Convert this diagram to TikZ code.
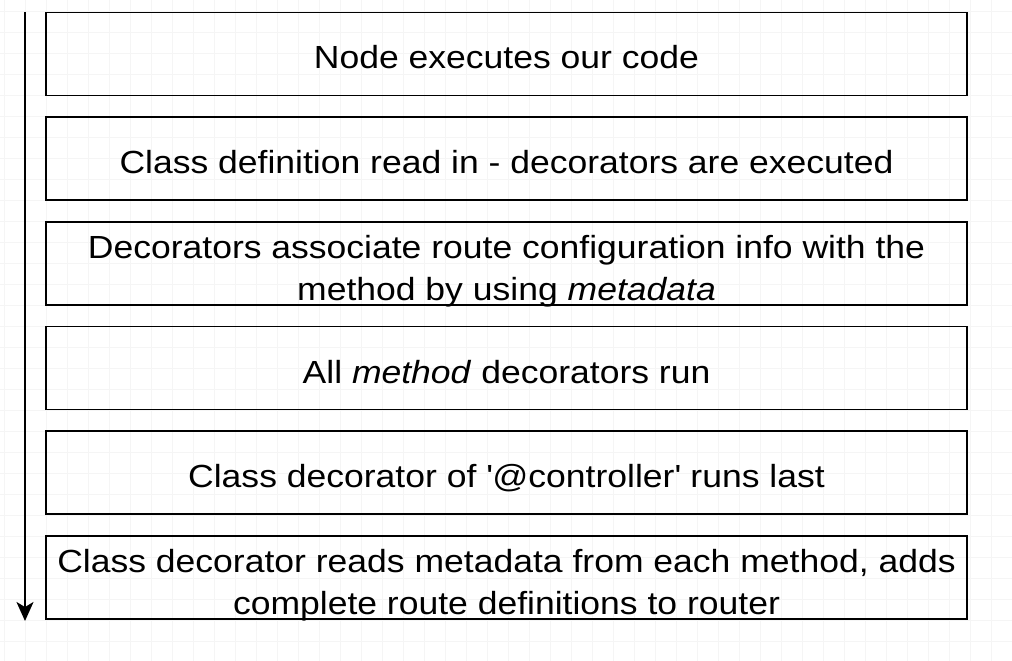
\documentclass[tikz,border=0pt]{standalone}
\usepackage{fontspec}
\setmainfont[FakeStretch=1.11]{Liberation Sans}
\usepackage{tikz}
\usetikzlibrary{positioning, arrows.meta}
\tikzset{
  gridline/.style={draw=black!4, line width=0.8pt},
  stepbox/.style={draw, line width=1.8pt, rectangle, inner sep=0pt,
    minimum width=921pt, minimum height=83pt},
  steptext/.style={inner sep=0pt, align=center,
    font=\fontsize{32}{42}\selectfont},
  oneline/.style={steptext, text height=23pt, text depth=7pt, yshift=-7pt},
  twolines/.style={steptext, yshift=-8pt},
  flow/.style={line width=1.8pt, -{Stealth[length=19pt,width=17pt,inset=5pt]}}
}

\begin{document}
\begin{tikzpicture}[x=1pt,y=-1pt]
        \useasboundingbox (0,0) rectangle (1012,661);
        % Rejilla de fondo
        \foreach \gx in {4,25,...,1012} \draw[gridline] (\gx,0) -- (\gx,661);
        \foreach \gy in {11,32,...,661} \draw[gridline] (0,\gy) -- (1012,\gy);
        % Cajas de los pasos
        \node[stepbox] (s1) at (506.5,54) {};
        \node[stepbox] (s2) at (506.5,158.5) {};
        \node[stepbox] (s3) at (506.5,263.5) {};
        \node[stepbox] (s4) at (506.5,368) {};
        \node[stepbox] (s5) at (506.5,472.5) {};
        \node[stepbox] (s6) at (506.5,577.5) {};
        % Textos de los pasos
        \node[oneline] (t1) at (s1) {Node executes our code};
        \node[oneline] (t2) at (s2) {Class definition read in - decorators are executed};
        \node[twolines] (t3) at (s3) {Decorators associate route configuration info with the\\method by using \textit{metadata}};
        \node[oneline] (t4) at (s4) {All \textit{method} decorators run};
        \node[oneline] (t5) at (s5) {Class decorator of \textquotesingle @controller\textquotesingle{} runs last};
        \node[twolines] (t6) at (s6) {Class decorator reads metadata from each method, adds\\complete route definitions to router};
        % Flecha del tiempo a la izquierda
        \coordinate (tstart) at (25,12);
        \coordinate (tend) at (25,621);
        \draw[flow] (tstart) -- (tend);
    \end{tikzpicture}
\end{document}
